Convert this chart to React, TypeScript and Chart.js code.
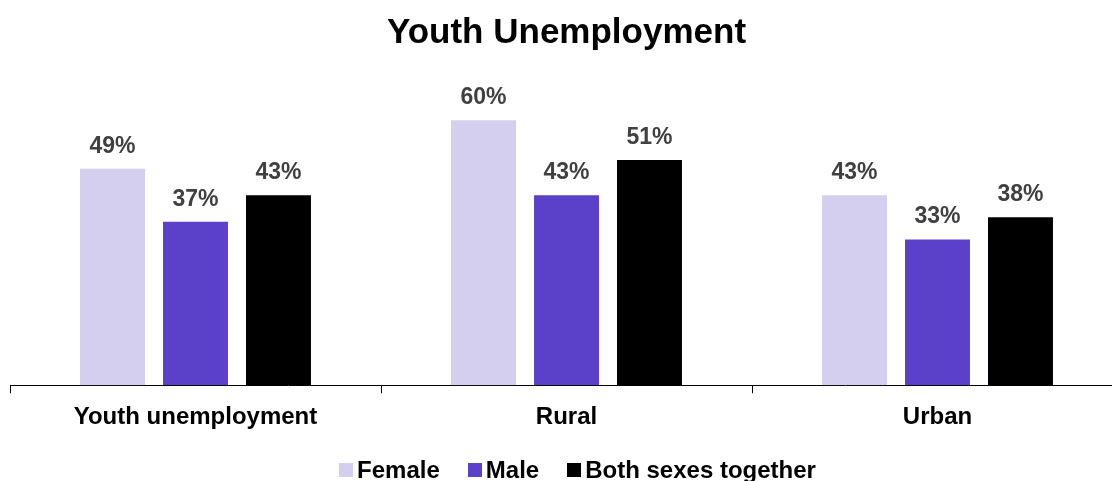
import React, { useEffect, useRef } from "react";
import { Chart, registerables } from "chart.js";

Chart.register(...registerables);

const categories = ["Youth unemployment", "Rural", "Urban"];
const seriesNames = ["Female", "Male", "Both sexes together"];
const female = [49, 60, 43];
const male = [37, 43, 33];
const both = [43, 51, 38];
const colors = ["#D5CFEF", "#5B41C9", "#000000"];
const FONT = "'Liberation Sans', Arial, sans-serif";

const CANVAS_W = 1125;
const CANVAS_H = 481;

const dataLabels = {
  id: "dataLabels",
  afterDatasetsDraw(chart: any) {
    const ctx = chart.ctx;
    ctx.save();
    ctx.font = `bold 23px ${FONT}`;
    ctx.fillStyle = "#404040";
    ctx.textAlign = "center";
    ctx.textBaseline = "alphabetic";
    chart.data.datasets.forEach((ds: any, i: number) => {
      const meta = chart.getDatasetMeta(i);
      meta.data.forEach((bar: any, j: number) => {
        ctx.fillText(`${ds.data[j]}%`, bar.x, bar.y - 16);
      });
    });
    ctx.restore();
  },
};

const bottomLegend = {
  id: "bottomLegend",
  afterDraw(chart: any) {
    const ctx = chart.ctx;
    ctx.save();
    ctx.font = `bold 24px ${FONT}`;
    ctx.textBaseline = "alphabetic";
    ctx.textAlign = "left";
    const box = 14;
    const gapText = 4;
    const gapItem = 28;
    const widths = seriesNames.map((n) => box + gapText + ctx.measureText(n).width);
    const total = widths.reduce((a, b) => a + b, 0) + gapItem * (widths.length - 1);
    const ca = chart.chartArea;
    let x = (ca.left + ca.right) / 2 + 11 - total / 2;
    const baseline = chart.height - 3;
    seriesNames.forEach((n, i) => {
      ctx.fillStyle = colors[i];
      ctx.fillRect(Math.round(x), baseline - 15, box, box);
      ctx.fillStyle = "#000000";
      ctx.fillText(n, x + box + gapText, baseline);
      x += widths[i] + gapItem;
    });
    ctx.restore();
  },
};

export default function App() {
  const ref = useRef<HTMLCanvasElement | null>(null);

  useEffect(() => {
    if (!ref.current) return;
    const values = [female, male, both];
    const chart = new Chart(ref.current, {
      type: "bar",
      data: {
        labels: categories,
        datasets: seriesNames.map((name, i) => ({
          label: name,
          data: values[i],
          backgroundColor: colors[i],
          borderWidth: 0,
          categoryPercentage: 0.671,
          barPercentage: 0.783,
        })),
      },
      options: {
        animation: false,
        responsive: false,
        maintainAspectRatio: false,
        layout: { padding: { left: 10, right: 2, top: 0, bottom: 39 } },
        plugins: {
          legend: { display: false },
          tooltip: { enabled: false },
          title: {
            display: true,
            text: "Youth Unemployment",
            color: "#000000",
            font: { family: FONT, size: 35, weight: "bold" },
            padding: { top: 12, bottom: 22 },
          },
        },
        scales: {
          x: {
            grid: {
              display: true,
              drawOnChartArea: false,
              drawTicks: true,
              tickLength: 8,
              color: "#000000",
              offset: true,
            },
            border: { display: true, color: "#000000" },
            ticks: {
              color: "#000000",
              font: { family: FONT, size: 24, weight: "bold" },
              padding: 10,
              maxRotation: 0,
              autoSkip: false,
            },
          },
          y: { display: false, min: 0, max: 70 },
        },
      },
      plugins: [dataLabels, bottomLegend],
    });
    return () => chart.destroy();
  }, []);

  return (
    <div
      style={{
        position: "fixed",
        left: 0,
        top: 0,
        width: 1112,
        height: 481,
        overflow: "hidden",
        background: "#ffffff",
      }}
    >
      <canvas
        ref={ref}
        width={CANVAS_W}
        height={CANVAS_H}
        style={{ width: CANVAS_W, height: CANVAS_H, display: "block" }}
      />
    </div>
  );
}
